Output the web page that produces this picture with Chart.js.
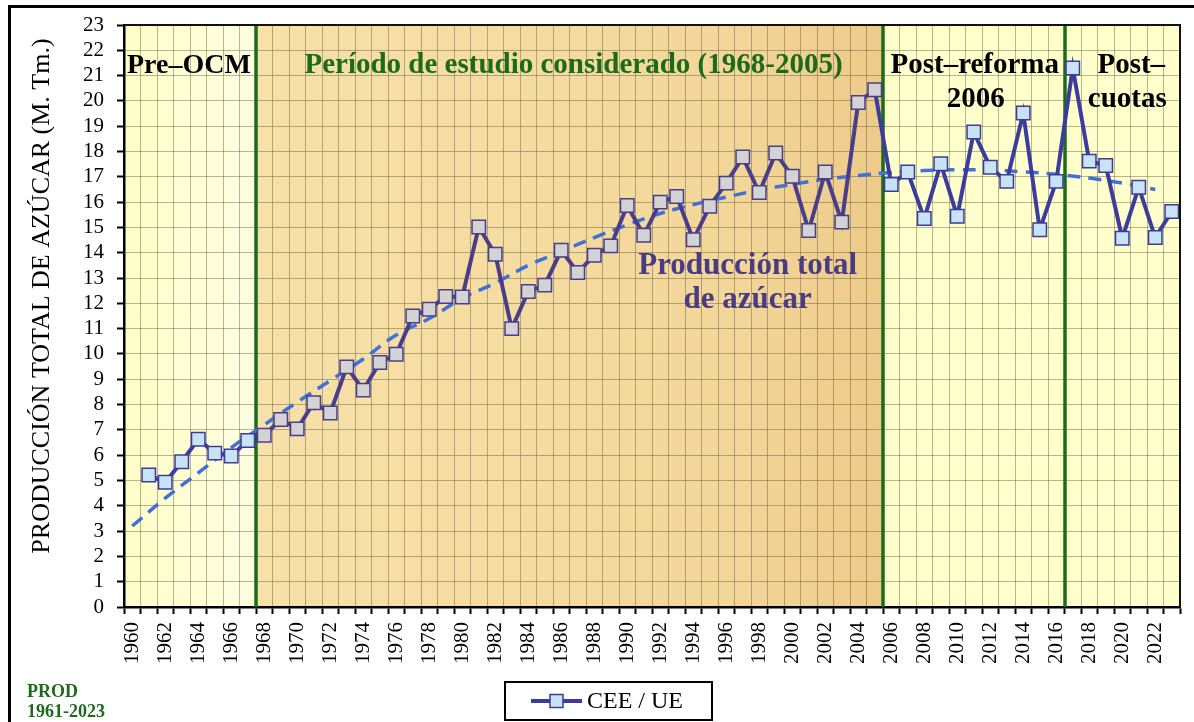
<!DOCTYPE html>
<html>
<head>
<meta charset="utf-8">
<script src="https://cdn.jsdelivr.net/npm/chart.js@4.4.1/dist/chart.umd.min.js"></script>
<style>
  body { margin: 0; background: #fff; }
  canvas { display: block; }
</style>
</head>
<body>
<canvas id="chart" width="1194" height="722"></canvas>
<script>
const years = ['1960','1961','1962','1963','1964','1965','1966','1967','1968','1969',
  '1970','1971','1972','1973','1974','1975','1976','1977','1978','1979',
  '1980','1981','1982','1983','1984','1985','1986','1987','1988','1989',
  '1990','1991','1992','1993','1994','1995','1996','1997','1998','1999',
  '2000','2001','2002','2003','2004','2005','2006','2007','2008','2009',
  '2010','2011','2012','2013','2014','2015','2016','2017','2018','2019',
  '2020','2021','2022','2023'];

// producción total de azúcar CEE / UE (M. Tm.)
const production = [null, 5.22, 4.93, 5.74, 6.63, 6.08, 5.97, 6.58, 6.79, 7.41,
  7.04, 8.07, 7.67, 9.49, 8.57, 9.66, 9.99, 11.5, 11.77, 12.27,
  12.25, 15.02, 13.94, 11.0, 12.47, 12.72, 14.1, 13.22, 13.9, 14.27,
  15.87, 14.69, 16.0, 16.22, 14.51, 15.84, 16.75, 17.78, 16.38, 17.94,
  17.02, 14.88, 17.19, 15.21, 19.94, 20.44, 16.7, 17.19, 15.35, 17.52,
  15.44, 18.77, 17.38, 16.82, 19.52, 14.91, 16.82, 21.3, 17.62, 17.45,
  14.57, 16.59, 14.6, 15.63];

// tendencia (even years)
const trend = [3.2, null, 4.3, null, 5.3, null, 6.3, null, 7.2, null,
  8.1, null, 8.95, null, 9.8, null, 10.75, null, 11.4, null,
  12.2, null, 12.8, null, 13.5, null, 14.05, null, 14.6, null,
  15.1, null, 15.55, null, 15.9, null, 16.2, null, 16.48, null,
  16.7, null, 16.9, null, 17.05, null, 17.17, null, 17.25, null,
  17.28, null, 17.27, null, 17.2, null, 17.1, null, 16.95, null,
  16.75, null, 16.5, null];

const periodStarts = ['1968', '2006', '2017'];

const SERIF = '"Liberation Serif", "Times New Roman", serif';
const BLUE_LINE = '#3b3c9e';
const PURPLE_LINE = '#4a3e8a';
const GREEN = '#1b6b1b';

const inStudy = i => years[i] >= '1968' && years[i] <= '2005';

const periodPlugin = {
  id: 'periods',
  beforeDraw(chart) {
    const {ctx, chartArea: a, scales: {x}} = chart;
    const edge = i => i <= 0 ? a.left : i >= years.length ? a.right
      : (x.getPixelForValue(i - 1) + x.getPixelForValue(i)) / 2;
    const x1 = edge(years.indexOf('1968'));
    const x2 = edge(years.indexOf('2006'));
    const h = a.bottom - a.top;
    ctx.save();
    let g = ctx.createLinearGradient(a.left, 0, x1, 0);
    g.addColorStop(0, '#fffec6');
    g.addColorStop(1, '#fffee2');
    ctx.fillStyle = g;
    ctx.fillRect(a.left, a.top, x1 - a.left, h);
    g = ctx.createLinearGradient(x1, 0, x2, 0);
    g.addColorStop(0, '#f7e1a9');
    g.addColorStop(0.75, '#f3d799');
    g.addColorStop(1, '#edca89');
    ctx.fillStyle = g;
    ctx.fillRect(x1, a.top, x2 - x1, h);
    ctx.fillStyle = '#ffffcc';
    ctx.fillRect(x2, a.top, a.right - x2, h);
    ctx.restore();
  },
  beforeDatasetsDraw(chart) {
    const {ctx, chartArea: a, scales: {x, y}} = chart;
    const edge = i => (x.getPixelForValue(i - 1) + x.getPixelForValue(i)) / 2;
    ctx.save();
    ctx.strokeStyle = GREEN;
    ctx.lineWidth = 3.5;
    periodStarts.forEach(yr => {
      const px = Math.round(edge(years.indexOf(yr)));
      ctx.beginPath();
      ctx.moveTo(px, a.top);
      ctx.lineTo(px, a.bottom);
      ctx.stroke();
    });

    const b1 = edge(years.indexOf('1968'));
    const b2 = edge(years.indexOf('2006'));
    const b3 = edge(years.indexOf('2017'));
    const write = (txt, px, val, color, size, align) => {
      ctx.font = 'bold ' + size + 'px ' + SERIF;
      ctx.fillStyle = color;
      ctx.textAlign = align;
      ctx.textBaseline = 'alphabetic';
      ctx.fillText(txt, px, y.getPixelForValue(val));
    };
    write('Pre\u2013OCM', a.left + 3, 21.12, '#000', 28, 'left');
    write('Período de estudio considerado (1968-2005)', (b1 + b2) / 2 + 4, 21.12, GREEN, 29, 'center');
    write('Post\u2013reforma', (b2 + b3) / 2 + 1, 21.12, '#000', 29, 'center');
    write('2006', (b2 + b3) / 2 + 2, 19.74, '#000', 29, 'center');
    write('Post\u2013', (b3 + a.right) / 2 + 9, 21.12, '#000', 29, 'center');
    write('cuotas', (b3 + a.right) / 2 + 5, 19.74, '#000', 29, 'center');
    const mid = x.getPixelForValue(37.3);
    write('Producción total', mid, 13.15, '#4a3c84', 31, 'center');
    write('de azúcar', mid, 11.8, '#4a3c84', 31, 'center');
    ctx.restore();
  },
  afterDraw(chart) {
    const {ctx, chartArea: a} = chart;
    ctx.save();
    // plot frame top / right
    ctx.strokeStyle = '#111';
    ctx.lineWidth = 2;
    ctx.beginPath();
    ctx.moveTo(a.left, a.top);
    ctx.lineTo(a.right, a.top);
    ctx.lineTo(a.right, a.bottom);
    ctx.stroke();

    // outer frame (left and top)
    ctx.fillStyle = '#000';
    ctx.fillRect(8, 5, 3, 717);
    ctx.fillRect(8, 5, 1186, 3);

    // y axis title
    ctx.save();
    ctx.translate(42, 296);
    ctx.rotate(-Math.PI / 2);
    ctx.font = '26px ' + SERIF;
    ctx.fillStyle = '#000';
    ctx.textAlign = 'center';
    ctx.textBaseline = 'middle';
    ctx.fillText('PRODUCCIÓN TOTAL DE AZÚCAR (M. Tm.)', 0, 0);
    ctx.restore();

    // PROD note
    ctx.font = 'bold 18px ' + SERIF;
    ctx.fillStyle = GREEN;
    ctx.textAlign = 'left';
    ctx.textBaseline = 'alphabetic';
    ctx.fillText('PROD', 27, 697);
    ctx.fillText('1961-2023', 27, 717);

    // legend
    ctx.fillStyle = '#fff';
    ctx.fillRect(505, 682, 207, 38);
    ctx.strokeStyle = '#000';
    ctx.lineWidth = 2;
    ctx.strokeRect(505, 682, 207, 38);
    ctx.strokeStyle = BLUE_LINE;
    ctx.lineWidth = 4;
    ctx.beginPath();
    ctx.moveTo(531, 701);
    ctx.lineTo(582, 701);
    ctx.stroke();
    ctx.fillStyle = '#c8e3f8';
    ctx.fillRect(550, 694.5, 13, 13);
    ctx.strokeStyle = '#3c3c98';
    ctx.lineWidth = 1.5;
    ctx.strokeRect(550, 694.5, 13, 13);
    ctx.font = '24px ' + SERIF;
    ctx.fillStyle = '#000';
    ctx.textBaseline = 'middle';
    ctx.fillText('CEE / UE', 587, 702);
    ctx.restore();
  }
};

new Chart(document.getElementById('chart'), {
  type: 'line',
  data: {
    labels: years,
    datasets: [{
      label: 'CEE / UE',
      data: production,
      borderColor: BLUE_LINE,
      borderWidth: 4,
      tension: 0,
      pointStyle: 'rect',
      pointRadius: 9.5,
      pointBorderWidth: 1.5,
      pointBackgroundColor: years.map((_, i) => inStudy(i) ? '#d3d3d6' : '#c8e3f8'),
      pointBorderColor: years.map((_, i) => inStudy(i) ? '#4a3e86' : '#3c3c98'),
      segment: {
        borderColor: c => inStudy(c.p0DataIndex) && c.p0DataIndex < 45 ? PURPLE_LINE : BLUE_LINE
      },
      order: 1
    }, {
      label: 'Tendencia',
      data: trend,
      borderColor: '#4070d8',
      borderWidth: 3.5,
      borderDash: [13, 8],
      pointRadius: 0,
      spanGaps: true,
      tension: 0.4,
      order: 2
    }]
  },
  options: {
    responsive: false,
    animation: false,
    devicePixelRatio: 1,
    layout: { padding: { left: 10, right: 14, top: 25, bottom: 0 } },
    plugins: {
      legend: { display: false },
      tooltip: { enabled: false }
    },
    scales: {
      x: {
        offset: true,
        afterFit: s => { s.height = 115; s.paddingLeft = 0; s.paddingRight = 0; },
        border: { color: '#000', width: 2.5 },
        grid: {
          offset: true,
          color: 'rgba(90, 78, 55, 0.42)',
          lineWidth: 1,
          tickColor: '#000',
          tickLength: 7,
          tickWidth: 2
        },
        ticks: {
          autoSkip: false,
          minRotation: 90,
          maxRotation: 90,
          padding: 8,
          color: '#000',
          font: { family: SERIF, size: 21 },
          callback: function (v, i) { return i % 2 === 0 ? this.getLabelForValue(v) : ''; }
        }
      },
      y: {
        min: 0,
        max: 23,
        afterFit: s => { s.width = 114; s.paddingTop = 0; s.paddingBottom = 0; },
        border: { color: '#000', width: 2.5 },
        grid: {
          color: 'rgba(90, 78, 55, 0.42)',
          lineWidth: 1,
          tickColor: '#000',
          tickLength: 7,
          tickWidth: 2
        },
        ticks: {
          stepSize: 1,
          autoSkip: false,
          padding: 13,
          color: '#000',
          font: { family: SERIF, size: 21 }
        }
      }
    }
  },
  plugins: [periodPlugin]
});
</script>
</body>
</html>
